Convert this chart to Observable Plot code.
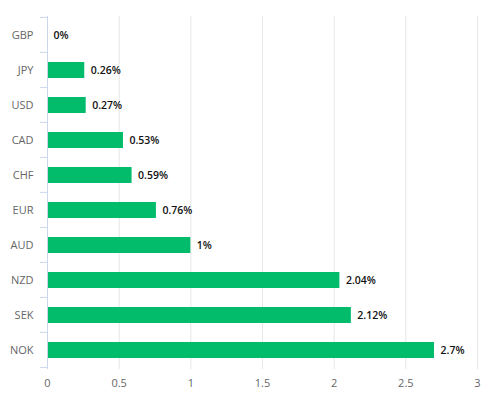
<!DOCTYPE html>
<html>
<head>
<meta charset="utf-8">
<script src="https://cdn.jsdelivr.net/npm/d3@7"></script>
<script src="https://cdn.jsdelivr.net/npm/@observablehq/plot@0.6"></script>
<style>
  html, body { margin: 0; padding: 0; background: #fff; }
  #chart svg { display: block; }
</style>
</head>
<body>
<div id="chart"></div>
<script>
const currencies = ["GBP", "JPY", "USD", "CAD", "CHF", "EUR", "AUD", "NZD", "SEK", "NOK"];
const changes = [0, 0.26, 0.27, 0.53, 0.59, 0.76, 1, 2.04, 2.12, 2.7];
const xTicks = [0, 0.5, 1, 1.5, 2, 2.5, 3];

const data = currencies.map((c, i) => ({currency: c, value: changes[i]}));
const padInner = 0.55;

const categoryTicks = (index, scales, values, dimensions) => {
  const g = d3.create("svg:g");
  const y = scales.y;
  const dom = currencies;
  const step = y(dom[1]) - y(dom[0]);
  const x0 = dimensions.marginLeft;
  const bounds = dom.map(d => y(d) - step * padInner / 2);
  bounds.push(y(dom[dom.length - 1]) - step * padInner / 2 + step);
  for (const b of bounds) {
    g.append("line")
      .attr("x1", x0 - 7).attr("x2", x0)
      .attr("y1", b).attr("y2", b)
      .attr("stroke", "#ccd6eb").attr("stroke-width", 1);
  }
  return g.node();
};

const chart = Plot.plot({
  width: 489,
  height: 394,
  marginLeft: 47,
  marginRight: 12,
  marginTop: 16,
  marginBottom: 25,
  style: {fontFamily: "'Open Sans', 'DejaVu Sans', sans-serif", fontSize: "11px", color: "#666"},
  x: {domain: [0, 3]},
  y: {domain: currencies, paddingInner: padInner, paddingOuter: padInner / 2},
  marks: [
    Plot.ruleX(xTicks.slice(1), {stroke: "#e6e6e6", strokeOpacity: 1}),
    Plot.barX(data, {x: "value", y: "currency", fill: "#02bc6b"}),
    Plot.ruleX([0], {stroke: "#ccd6eb", strokeOpacity: 1}),
    categoryTicks,
    Plot.text(data, {x: "value", y: "currency", text: d => d.value + "%", textAnchor: "start", dx: 6, fill: "#111", fontWeight: 600, fontSize: 10.5}),
    Plot.axisY({tickSize: 0, tickPadding: 14, fill: "#666", fontSize: 11, label: null}),
    Plot.axisX({ticks: xTicks, tickSize: 0, tickPadding: 10, fill: "#666", fontSize: 11, label: null, tickFormat: d => String(d)})
  ]
});
document.getElementById("chart").appendChild(chart);
</script>
</body>
</html>
